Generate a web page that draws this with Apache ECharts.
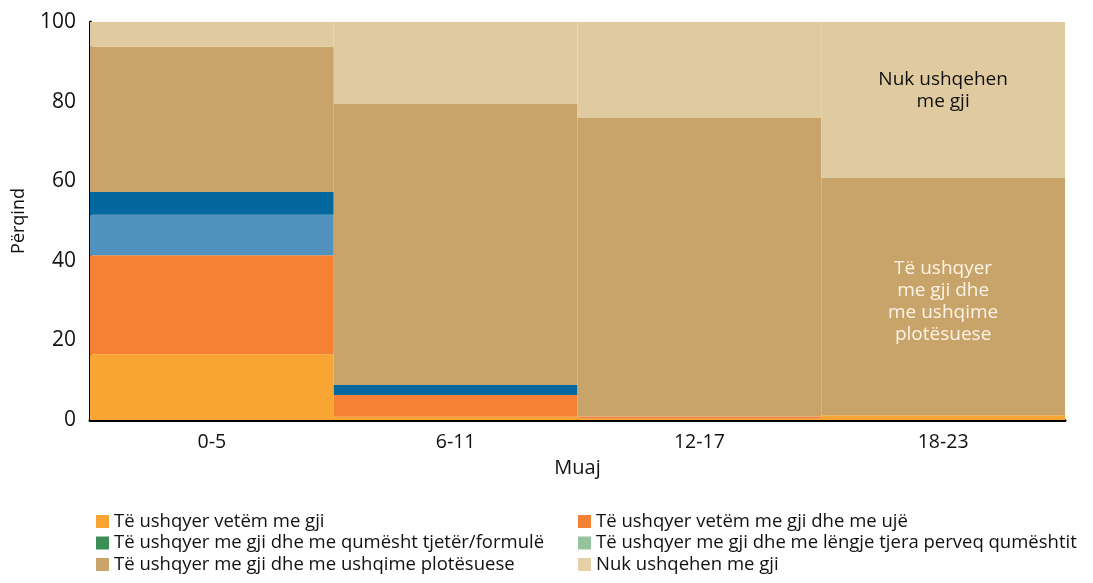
<!DOCTYPE html>
<html>
<head>
<meta charset="utf-8">
<script src="https://cdn.jsdelivr.net/npm/echarts@6/dist/echarts.min.js"></script>
<style>
  html, body { margin: 0; padding: 0; background: #fff; }
  #chart { width: 1093px; height: 583px; }
</style>
</head>
<body>
<div id="chart"></div>
<script>
  // age groups (months)
  const categories = ['0-5', '6-11', '12-17', '18-23']

  const seriesNames = [
    'Të ushqyer vetëm me gji',
    'Të ushqyer vetëm me gji dhe me ujë',
    'Të ushqyer me gji dhe me qumësht tjetër/formulë',
    'Të ushqyer me gji dhe me lëngje tjera perveq qumështit',
    'Të ushqyer me gji dhe me ushqime plotësuese',
    'Nuk ushqehen me gji'
  ]

  // percentages per category, stacked bottom to top
  const exclusive = [16.5, 0.8, 0.3, 1.2]
  const withWater = [24.9, 5.5, 0.6, 0]
  const otherLiquids = [10.2, 0, 0, 0]
  const otherMilk = [5.7, 2.5, 0, 0]
  const complementary = [36.5, 70.6, 75.0, 59.6]
  const notBreastfed = [6.2, 20.6, 24.1, 39.2]

  const barColors = ['#F9A533', '#F48134', '#5292BF', '#02689E', '#C8A46A', '#E0CAA0']
  const legendColors = ['#F9A533', '#F48134', '#3B8E55', '#95C39E', '#C8A46A', '#E6D0A8']

  const font = 'Open Sans'
  const chart = echarts.init(document.getElementById('chart'))

  function bar(name, data, color, lastLabel) {
    const items = data.map((v, i) => {
      if (lastLabel && i === data.length - 1) {
        return {value: v, label: lastLabel}
      }
      return v
    })
    return {
      name: name,
      type: 'bar',
      stack: 'total',
      barCategoryGap: 0,
      data: items,
      itemStyle: {color: color},
      emphasis: {disabled: true}
    }
  }

  const legendText = {fontSize: 18.5, color: '#111', fontFamily: font}

  chart.setOption({
    animation: false,
    textStyle: {fontFamily: font},
    grid: {left: 90, right: 28, top: 22, bottom: 163},
    legend: [
      {
        orient: 'vertical',
        left: 91,
        top: 507,
        itemWidth: 13,
        itemHeight: 13,
        itemGap: 2.5,
        icon: 'rect',
        textStyle: legendText,
        data: [0, 2, 4].map(i => ({name: seriesNames[i], itemStyle: {color: legendColors[i]}}))
      },
      {
        orient: 'vertical',
        left: 573,
        top: 507,
        itemWidth: 13,
        itemHeight: 13,
        itemGap: 2.5,
        icon: 'rect',
        textStyle: legendText,
        data: [1, 3, 5].map(i => ({name: seriesNames[i], itemStyle: {color: legendColors[i]}}))
      }
    ],
    xAxis: {
      type: 'category',
      data: categories,
      name: 'Muaj',
      nameLocation: 'middle',
      nameGap: 38,
      nameTextStyle: {fontSize: 20, color: '#111', fontFamily: font},
      axisLine: {lineStyle: {color: '#000', width: 3}},
      axisTick: {length: 8, lineStyle: {color: '#000', width: 2}},
      axisLabel: {fontSize: 19.5, color: '#111', margin: 12, fontFamily: font}
    },
    yAxis: {
      type: 'value',
      min: 0,
      max: 100,
      interval: 20,
      name: 'Përqind',
      nameLocation: 'middle',
      nameGap: 62,
      nameTextStyle: {fontSize: 18, color: '#111', fontFamily: font},
      axisLine: {show: true, lineStyle: {color: '#000', width: 3}},
      axisTick: {show: false},
      splitLine: {show: false},
      axisLabel: {fontSize: 21, color: '#111', margin: 14, fontFamily: font}
    },
    series: [
      bar(seriesNames[0], exclusive, barColors[0]),
      bar(seriesNames[1], withWater, barColors[1]),
      bar(seriesNames[3], otherLiquids, barColors[2]),
      bar(seriesNames[2], otherMilk, barColors[3]),
      bar(seriesNames[4], complementary, barColors[4], {
        show: true,
        position: 'inside',
        formatter: 'Të ushqyer\nme gji dhe\nme ushqime\nplotësuese',
        color: '#FBF3E6',
        fontSize: 19,
        lineHeight: 22,
        fontFamily: font,
        offset: [0, 5]
      }),
      bar(seriesNames[5], notBreastfed, barColors[5], {
        show: true,
        position: 'inside',
        formatter: 'Nuk ushqehen\nme gji',
        color: '#111',
        fontSize: 19,
        lineHeight: 22,
        fontFamily: font,
        offset: [0, -9]
      })
    ]
  })
</script>
</body>
</html>
